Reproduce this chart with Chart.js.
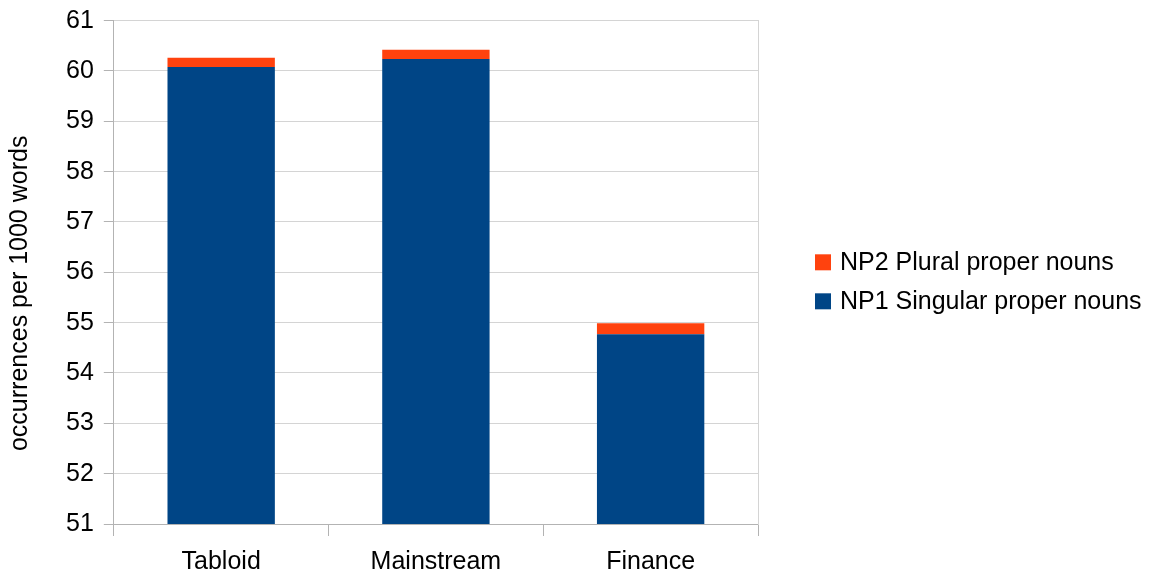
<!DOCTYPE html>
<html>
<head>
<meta charset="utf-8">
<script src="https://cdn.jsdelivr.net/npm/chart.js@4/dist/chart.umd.min.js"></script>
<style>
html,body{margin:0;padding:0;background:#fff;overflow:hidden;}
#wrap{width:1160px;height:573px;}
</style>
</head>
<body>
<div id="wrap"><canvas id="c" width="1160" height="573"></canvas></div>
<script>
const categories = ["Tabloid", "Mainstream", "Finance"];
const np1Singular = [60.08, 60.24, 54.77];
const np2Plural = [0.18, 0.18, 0.22];
const yMin = 51, yMax = 61, yStep = 1;
const yTitle = "occurrences per 1000 words";
const seriesNames = ["NP1 Singular proper nouns", "NP2 Plural proper nouns"];

const FONT = "'Liberation Sans', Arial, sans-serif";
Chart.defaults.font.family = FONT;
Chart.defaults.color = "#000";

// Legend on the right (reversed order) and rotated y-axis title
const sideText = {
  id: 'sideText',
  afterDraw(chart) {
    const ctx = chart.ctx;
    const ca = chart.chartArea;
    const mid = (ca.top + ca.bottom) / 2;
    ctx.save();
    ctx.font = "25px " + FONT;
    ctx.fillStyle = '#000';
    // y-axis title
    ctx.save();
    ctx.translate(20, mid + 21);
    ctx.rotate(-Math.PI / 2);
    ctx.textAlign = 'center';
    ctx.textBaseline = 'middle';
    ctx.fillText(yTitle, 0, 0);
    ctx.restore();
    // legend
    const items = chart.data.datasets.map(d => ({ text: d.label, color: d.backgroundColor })).reverse();
    const box = 16, gap = 8, rowH = 39;
    const x0 = ca.right + 57;
    const startY = mid + 9.5 - (items.length - 1) * rowH / 2;
    ctx.textBaseline = 'middle';
    ctx.textAlign = 'left';
    items.forEach((it, i) => {
      const cy = startY + i * rowH;
      ctx.fillStyle = it.color;
      ctx.fillRect(x0, cy - box / 2, box, box);
      ctx.fillStyle = '#000';
      ctx.fillText(it.text, x0 + box + gap + 1, cy + 1);
    });
    ctx.restore();
  }
};

new Chart(document.getElementById('c'), {
  type: 'bar',
  data: {
    labels: categories,
    datasets: [
      { label: seriesNames[0], data: np1Singular, backgroundColor: '#004586', borderWidth: 0,
        categoryPercentage: 1.0, barPercentage: 0.5 },
      { label: seriesNames[1], data: np2Plural, backgroundColor: '#ff420e', borderWidth: 0,
        categoryPercentage: 1.0, barPercentage: 0.5 }
    ]
  },
  plugins: [sideText],
  options: {
    responsive: false,
    animation: false,
    maintainAspectRatio: false,
    layout: { padding: { top: 0, right: 402, bottom: -15, left: 56 } },
    plugins: {
      tooltip: { enabled: false },
      legend: { display: false }
    },
    scales: {
      x: {
        stacked: true,
        grid: { offset: true, drawOnChartArea: false, color: '#b3b3b3', tickLength: 12 },
        border: { color: '#b3b3b3' },
        ticks: { font: { size: 25 }, color: '#000', padding: 11 }
      },
      y: {
        stacked: true,
        min: yMin, max: yMax,
        ticks: { stepSize: yStep, font: { size: 25, lineHeight: 0.85 }, color: '#000', padding: 10 },
        grid: { color: '#d4d4d4', tickColor: '#b3b3b3', tickLength: 10 },
        border: { color: '#b3b3b3' }
      },
      yRight: {
        position: 'right',
        min: yMin, max: yMax,
        ticks: { display: false },
        grid: { drawOnChartArea: false, drawTicks: false },
        border: { color: '#d4d4d4' }
      }
    }
  }
});
</script>
</body>
</html>
